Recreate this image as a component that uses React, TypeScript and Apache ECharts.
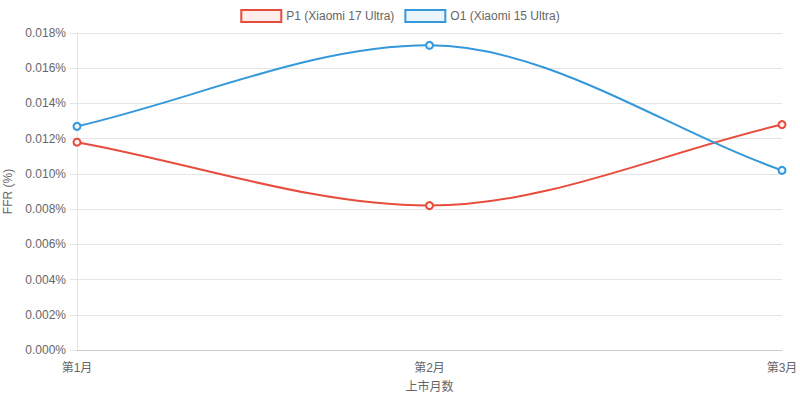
import React, { useEffect, useRef } from "react";
import * as echarts from "echarts";

const categories = ["第1月", "第2月", "第3月"];
const seriesNames = ["P1 (Xiaomi 17 Ultra)", "O1 (Xiaomi 15 Ultra)"];
const p1Values = [0.0118, 0.0082, 0.0128];
const o1Values = [0.0127, 0.0173, 0.0102];
const yTicks = { min: 0, max: 0.018, interval: 0.002 };

const FONT = "'Liberation Sans', Arial, 'Noto Sans CJK SC', sans-serif";

// Chart.js-style monotone cubic tangents (Fritsch–Carlson) in pixel space
function monotoneTangents(pts: number[][]): number[] {
  const n = pts.length;
  const delta: number[] = [];
  for (let i = 0; i < n - 1; i++) {
    const dx = pts[i + 1][0] - pts[i][0];
    delta.push(dx !== 0 ? (pts[i + 1][1] - pts[i][1]) / dx : 0);
  }
  const m: number[] = [];
  for (let i = 0; i < n; i++) {
    if (i === 0) m.push(delta[0]);
    else if (i === n - 1) m.push(delta[n - 2]);
    else if (Math.sign(delta[i - 1]) !== Math.sign(delta[i]) || delta[i - 1] === 0 || delta[i] === 0) m.push(0);
    else m.push((delta[i - 1] + delta[i]) / 2);
  }
  for (let i = 0; i < n - 1; i++) {
    if (delta[i] === 0) {
      m[i] = 0;
      m[i + 1] = 0;
      continue;
    }
    const a = m[i] / delta[i];
    const b = m[i + 1] / delta[i];
    const s = a * a + b * b;
    if (s > 9) {
      const t = 3 / Math.sqrt(s);
      m[i] = t * a * delta[i];
      m[i + 1] = t * b * delta[i];
    }
  }
  return m;
}

export default function App() {
  const ref = useRef<HTMLDivElement>(null);
  useEffect(() => {
    if (!ref.current) return;
    document.body.style.margin = "0";
    const chart = echarts.init(ref.current, undefined, { renderer: "svg" });

    const pointSeries = (name: string, data: number[], color: string, fill: string) => ({
      name,
      type: "line",
      data,
      z: 3,
      symbol: "circle",
      symbolSize: 7,
      showSymbol: true,
      lineStyle: { width: 0, opacity: 0 },
      itemStyle: { color: fill, borderColor: color, borderWidth: 2 },
    });

    const curveSeries = (name: string, data: number[], color: string) => ({
      name,
      type: "custom",
      z: 2,
      silent: true,
      data: data.map((v, i) => [i, v]),
      encode: { x: 0, y: 1 },
      renderItem: (params: any, api: any) => {
        const i = params.dataIndex;
        if (i >= data.length - 1) return null;
        const pts = data.map((v, k) => api.coord([k, v]));
        const m = monotoneTangents(pts);
        const p0 = pts[i];
        const p1 = pts[i + 1];
        const dx = (p1[0] - p0[0]) / 3;
        return {
          type: "bezierCurve",
          shape: {
            x1: p0[0],
            y1: p0[1],
            cpx1: p0[0] + dx,
            cpy1: p0[1] + m[i] * dx,
            cpx2: p1[0] - dx,
            cpy2: p1[1] - m[i + 1] * dx,
            x2: p1[0],
            y2: p1[1],
          },
          style: { stroke: color, lineWidth: 2, fill: "none" },
        };
      },
    });

    chart.setOption({
      animation: false,
      textStyle: { fontFamily: FONT },
      legend: {
        top: 4,
        left: "center",
        icon: "rect",
        itemWidth: 40,
        itemHeight: 12,
        itemGap: 10,
        textStyle: { color: "#666", fontSize: 12, fontFamily: FONT },
        data: [
          {
            name: seriesNames[0],
            itemStyle: { color: "rgba(231,76,60,0.1)", borderColor: "#e74c3c", borderWidth: 2 },
          },
          {
            name: seriesNames[1],
            itemStyle: { color: "rgba(52,152,219,0.1)", borderColor: "#3498db", borderWidth: 2 },
          },
        ],
      },
      grid: { left: 77, right: 18, top: 33, bottom: 51, containLabel: false, outerBoundsMode: "none" },
      xAxis: {
        type: "category",
        data: categories,
        boundaryGap: false,
        name: "上市月数",
        nameLocation: "middle",
        nameGap: 31,
        nameTextStyle: { color: "#666", fontSize: 12, fontFamily: FONT },
        axisLine: { show: true, lineStyle: { color: "#ccc", width: 1 } },
        axisTick: { show: false },
        axisLabel: { color: "#666", fontSize: 12, margin: 12, fontFamily: FONT },
        splitLine: { show: false },
      },
      yAxis: {
        type: "value",
        min: yTicks.min,
        max: yTicks.max,
        interval: yTicks.interval,
        name: "FFR (%)",
        nameLocation: "middle",
        nameGap: 56,
        nameRotate: 90,
        nameTextStyle: { color: "#666", fontSize: 12, fontFamily: FONT },
        axisLine: { show: true, lineStyle: { color: "#e5e5e5", width: 1 } },
        axisTick: { show: true, length: 7, lineStyle: { color: "#e5e5e5" } },
        axisLabel: {
          color: "#666",
          fontSize: 12,
          margin: 11,
          fontFamily: FONT,
          formatter: (v: number) => v.toFixed(3) + "%",
        },
        splitLine: { show: true, lineStyle: { color: "#e5e5e5", width: 1 } },
      },
      series: [
        curveSeries(seriesNames[0], p1Values, "#e74c3c"),
        curveSeries(seriesNames[1], o1Values, "#3498db"),
        pointSeries(seriesNames[0], p1Values, "#e74c3c", "#fdf0ee"),
        pointSeries(seriesNames[1], o1Values, "#3498db", "#eef6fc"),
      ],
    });
    return () => chart.dispose();
  }, []);
  return <div ref={ref} style={{ width: 800, height: 401 }} />;
}
